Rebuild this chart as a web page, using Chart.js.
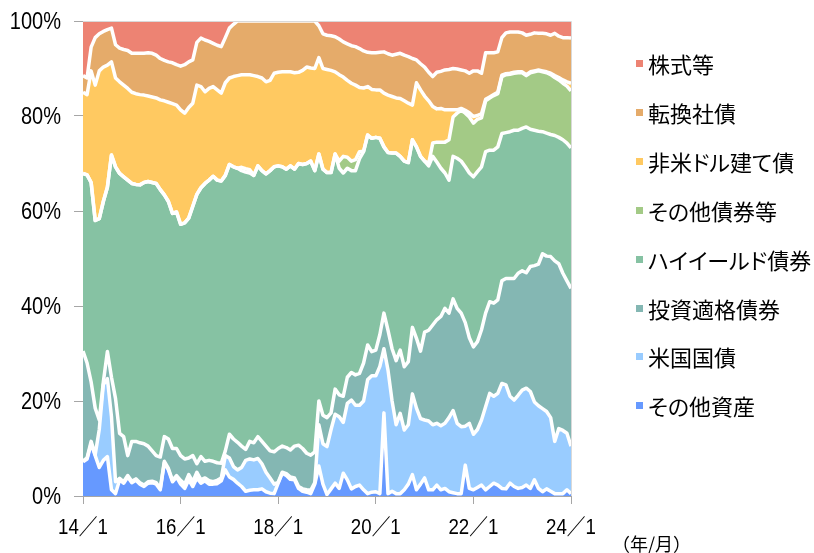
<!DOCTYPE html>
<html>
<head>
<meta charset="utf-8">
<script src="https://cdn.jsdelivr.net/npm/chart.js@4/dist/chart.umd.min.js"></script>
<style>
html,body{margin:0;padding:0;background:#fff;}
#wrap{position:relative;width:814px;height:553px;overflow:hidden;}
#c{position:absolute;left:0;top:0;}
.lg{position:absolute;left:636px;height:26px;line-height:26px;font-family:'Noto Sans CJK JP',sans-serif;font-size:22px;color:#000;white-space:nowrap;font-feature-settings:"palt";}
.lg i{position:absolute;left:0;top:10px;width:7px;height:7px;}
.lg span{position:absolute;left:12px;top:0;}
#unit{position:absolute;left:612px;top:531px;font-family:'Noto Sans CJK JP',sans-serif;font-size:18px;line-height:24px;color:#000;}
</style>
</head>
<body>
<div id="wrap">
<canvas id="c" width="814" height="553"></canvas>
<div id="legend"></div>
<div id="unit">（年/月）</div>
</div>
<script>
// ---- categories (monthly, 2014/1 .. 2024/1) ----
const months = [];
for (let y = 14; y <= 24; y++) {
  for (let m = 1; m <= 12; m++) {
    if (y === 24 && m > 1) break;
    months.push(y + '/' + m);
  }
}
const tickLabels = ['14／1', '16／1', '18／1', '20／1', '22／1', '24／1'];
const yTickValues = [0, 20, 40, 60, 80, 100];
const yTickLabels = ['0%', '20%', '40%', '60%', '80%', '100%'];

// ---- series (% of portfolio), bottom of stack first ----
const otherAssets = [
7.2,7.8,11,8.5,6,7.5,8.3,1.3,0.5,3.4,
2.7,4,2.8,3.3,2.5,2,2.7,2.8,2.5,1.3,
7,5.5,3,4,2.5,1.6,3.4,2,3.8,2.7,
3.2,2.5,2.5,2.6,3.2,5.5,4,3.5,2.7,2,
1,1.2,1.3,1.3,1.5,0.9,0.6,0.5,2.7,4.8,
4.3,3.5,3.4,1.6,1,0.8,0.5,2.5,6.3,2.5,
0.3,1.5,2.7,1.6,4.8,3.4,1.5,2,2.3,1.3,
0.5,0.8,0.9,0.5,17.5,0.5,1,0.5,0.5,1.3,
2.5,4.5,1.3,2.5,3.8,1.3,1.3,2.3,1.3,1.6,
0.9,0.7,0.5,0.5,6.5,1.6,1.3,1.8,2.3,1.3,
2,2.7,2.3,1.6,1.5,2.7,2,1.6,1.8,2.3,
1.6,3.4,1.6,0.9,1.5,1,0.5,0.5,0.5,1.3,
0.5];
const usTreasury = [
0.2,0.2,0.5,0.2,8,16,16.4,15.4,2.5,0.3,
0.3,0.3,0.3,0.3,0.3,0.3,0.3,0.3,0.3,0.3,
0.3,0.3,0.3,0.3,0.8,0.9,1.1,1,1.2,0.7,
0.6,0.7,0.5,0.7,0.6,3,4,2.7,2.8,4,
6.5,6.6,6.3,6.6,5.3,4.1,3.2,2,0.2,0.2,
0.4,0.5,0.4,0.4,0.5,0.5,0.7,0.3,8.7,8.5,
10.1,12.5,14.5,15.1,10.7,16.1,18.7,17.1,16.8,18.7,
24,24.5,24.4,26.8,13.5,26,19,14.5,16.9,12.6,
12.5,17,17.2,13.8,12.2,14.5,13.7,13,13.5,13.7,
15.6,17.3,14.8,14.1,8.2,13.7,11.7,12.2,13.7,17.5,
19.6,18.3,19.3,22.1,21.9,18.3,18.2,19.6,20.5,20.4,
20.4,16.4,17.4,17.5,16.3,15.5,11,13.7,13.3,11.9,
10];
const investmentGrade = [
23.1,20,12.5,9.8,2,0.5,5.7,8.3,17.5,9.5,
9.5,4.2,8.4,7.9,8.4,8.7,7.5,6.4,5.7,6.6,
5.2,6.2,6.7,5.7,5.2,5.3,3.5,5.5,1.8,4.9,
3.5,4.3,4.3,3.7,3.1,1,5,5.8,5.8,4.5,
2.3,3.7,3.6,4.6,4.7,5.5,5.7,6.8,7.1,5.5,
5.5,5.7,6.7,8.7,8.5,7.7,7.4,6.5,5,6,
6.1,3.5,5.3,4.6,5.5,5.5,5.8,6.4,6.7,8,
7.3,5.1,5.4,6.7,7.5,8.4,11,13.5,13.3,13.3,
13.3,14,14.7,14.2,18.5,19.1,21,21.8,23,24.2,
22,23.5,24.2,23.9,21.8,18,18.4,18.5,19,19.7,
19.3,19.6,19.7,21.6,22.4,24.8,25.6,25.7,25.1,24.3,
26.3,28.7,29.8,32.6,32.7,33.9,38,34.7,33.1,32.1,
33.2];
const highYield = [
37.4,39.6,42,39.5,42.4,38,34.6,46.8,48.8,54.7,
54.7,58,54.3,54.1,54.3,55,55.7,56.5,57.3,56.3,
50.9,50,49.5,49.8,48.7,49.7,50.5,52.5,56.7,56.6,
58.5,59,60,59.5,59.4,58,56.8,57.3,57.7,58,
58.4,56.5,56.3,57,57,57.3,59,60,59.5,58.8,
58.6,59.8,58.3,59.3,59.8,61,61.9,59.2,52,51.8,
51.6,50.6,49.5,47.7,47,44,42.5,43,45.2,44.5,
44.2,44.9,44.8,41.3,35,37.4,41.2,43.7,40.8,43.3,
41.9,39.5,40.3,41,36,34.6,35.5,33.2,31.2,28.5,
28,30,31.6,32,32.8,34.7,35.8,35.8,34.3,34,
31.9,32.2,32.2,31,30.7,30.9,31.2,30.1,30,30.7,
28.9,28.5,28,25.7,25.9,25.7,26.4,26.6,28.1,29,
29.6];
const otherBonds = [
0,0,0,0,0,0,0,0,0,0,
0,0,0,0,0,0,0,0,0,0,
0,0,0,0,0,0,0,0,0,0,
0,0,0,0,0,0,0,0,0,0.7,
0.7,0.7,0,0,0,0,0,0,0,0,
0,0,0,0,0,0,0,0,0,0,
0,0,0,1.5,3.5,2.3,2,2.3,1.5,0.1,
0,0,0,0,0,0,0,0,0,0,
0,0,0,0,0,0.5,2.8,4.2,5.5,6.5,
8.5,8.3,9.5,10.7,11.3,11.8,11.3,11,10.3,10.7,
11,11.5,11.2,12,12.2,12.1,12,12.1,11.7,10.8,
11.9,12.3,12.7,12.6,12.7,12.6,12.2,12.1,11.9,12,
12];
const nonUsdBonds = [
17.1,16.9,23.5,28.5,31.1,28.3,25.7,19.6,18.7,19.3,
19.3,19.3,19.2,19.1,19,18.4,18,18,18,18.9,
19.8,20.9,23.1,22.5,24.1,23.1,23.3,21.7,23,21.3,
19.3,19.3,18.9,19,18.5,19.5,18.2,19,19.5,19.5,
19.8,20,21,18.8,19.5,19.4,19,19.7,19.7,20,
20.5,19.8,20.3,19.2,19.8,20.3,19.6,21.5,20.3,21.2,
21.7,21.5,17.3,18.2,16.7,16.2,16.4,15.7,13.5,13.3,
10.2,10.3,10,10.2,11.3,12.1,11.9,11.6,12.2,12.7,
12.5,7.3,13.5,14,13.7,13.2,7.7,7,7.1,6.8,
6.3,1.5,0.7,0.4,0.6,0.9,1.4,0.8,0.9,0.3,
0.2,0.2,0.3,0.3,0.2,0.2,0.2,0.2,0.2,0.2,
0.2,0.2,0.2,0.2,0.2,0.3,0.4,0.5,0.7,0.9,
1.6];
const convertibles = [
3.5,3.5,5,10,7.8,7.5,7.5,7.1,7,7.1,
7.5,8,8.2,8.5,8.7,8.8,9.1,9.2,9,8.7,
8.5,8.5,8.6,8.5,9.2,10.2,9.6,9.1,9,10.2,
10.9,9.9,9.1,9.4,9.8,9.5,10.5,11,11.5,11.3,
11.3,11.3,11.5,11.7,12,12.8,12.5,11,10.8,10.7,
10.7,10.7,10.9,10.8,10.4,9.7,9.9,10,6.7,7.3,
7.2,7.3,7.4,7.5,7.4,7.7,7.9,8.1,8.2,7.8,
7.2,7.7,7.8,7.9,8.7,8.7,8.7,9.2,9.5,9.6,
9.8,9.8,4.8,5.5,6.1,6,6.3,7.7,7.8,8.4,
8.5,8.7,8.6,8.1,8.3,8.3,9.6,9.4,8.5,9.8,
9.3,8.8,8.5,7.9,8.6,8.7,8.5,8.4,8.2,8.3,
7.9,8,7.7,7.9,8,8,8.9,8.7,8.9,9.3,
9.5];
const equities = [
11.5,12,5.5,3.5,2.7,2.2,1.8,1.5,5,5.7,
6,6.2,6.8,6.8,6.8,6.8,6.7,6.8,7.2,7.9,
8.3,8.6,8.8,9.2,9.5,9.2,8.6,8.2,4.5,3.6,
4,4.3,4.7,5.1,5.4,3.5,1.5,0.7,0,0,
0,0,0,0,0,0,0,0,0,0,
0,0,0,0,0,0,0,0,1,2.7,
3,3.1,3.3,3.8,4.4,4.8,5.2,5.4,5.8,6.3,
6.6,6.7,6.7,6.6,6.5,6.9,7.2,7,6.8,7.2,
7.5,7.9,8.2,9,9.7,10.8,11.7,10.8,10.6,10.3,
10.2,10,10.1,10.3,10.5,11,10.5,10.5,11,6.7,
6.7,6.7,6.5,3.5,2.5,2.3,2.3,2.3,2.5,3,
2.8,2.5,2.6,2.6,2.7,3,2.6,3.2,3.5,3.5,
3.6];

const seriesNames = ['その他資産','米国国債','投資適格債券','ハイイールド債券','その他債券等','非米ドル建て債','転換社債','株式等'];
const seriesData = [otherAssets, usTreasury, investmentGrade, highYield, otherBonds, nonUsdBonds, convertibles, equities];
const seriesColors = ['#6699FF','#99CCFF','#84B7B3','#86C2A3','#A3CA86','#FFC961','#E5AB6A','#ED8373'];

const datasets = seriesNames.map((name, i) => ({
  label: name,
  data: seriesData[i],
  backgroundColor: seriesColors[i],
  borderColor: '#ffffff',
  borderWidth: i === seriesNames.length - 1 ? 0 : 3.5,
  fill: i === 0 ? 'origin' : '-1',
  pointRadius: 0,
  tension: 0,
  borderJoinStyle: 'round'
}));

// plot frame (top / right) and condensed tick labels placed by the scales
const frame = {
  id: 'frame',
  afterDraw(chart) {
    const {ctx, chartArea: a, scales: {x, y}} = chart;
    ctx.save();
    ctx.strokeStyle = '#d9d9d9';
    ctx.lineWidth = 1;
    ctx.beginPath();
    ctx.moveTo(a.left, a.top + 0.5);
    ctx.lineTo(a.right + 0.5, a.top + 0.5);
    ctx.lineTo(a.right + 0.5, a.bottom);
    ctx.stroke();

    ctx.fillStyle = '#000';
    ctx.textBaseline = 'alphabetic';
    ctx.font = "23px 'Liberation Sans', 'Noto Sans CJK JP', sans-serif";
    ctx.textAlign = 'right';
    yTickValues.forEach((v, i) => {
      const py = y.getPixelForValue(v);
      ctx.save();
      ctx.translate(61, py + 8);
      ctx.scale(0.87, 1);
      ctx.fillText(yTickLabels[i], 0, 0);
      ctx.restore();
    });
    ctx.font = "22px 'Liberation Sans', 'Noto Sans CJK JP', sans-serif";
    ctx.textAlign = 'center';
    tickLabels.forEach((t, i) => {
      const px = x.getPixelForValue(i * 24);
      ctx.save();
      ctx.translate(px, 534);
      ctx.scale(0.85, 1);
      ctx.fillText(t, 0, 0);
      ctx.restore();
    });
    ctx.restore();
  }
};

new Chart(document.getElementById('c'), {
  type: 'line',
  data: {labels: months, datasets},
  plugins: [frame],
  options: {
    responsive: false,
    animation: false,
    events: [],
    layout: {padding: {left: 0, right: 243, top: 21, bottom: 0}},
    plugins: {
      legend: {display: false},
      tooltip: {enabled: false},
      filler: {drawTime: 'beforeDatasetsDraw'}
    },
    scales: {
      x: {
        afterFit(s) { s.height = 57; },
        border: {color: '#a6a6a6', width: 1},
        grid: {
          drawOnChartArea: false,
          tickLength: 8,
          tickColor: (c) => (c.index % 24 === 0 ? '#a6a6a6' : 'rgba(0,0,0,0)')
        },
        ticks: {display: false, autoSkip: false, maxRotation: 0}
      },
      y: {
        stacked: true,
        min: 0,
        max: 100,
        afterFit(s) { s.width = 83; },
        border: {color: '#a6a6a6', width: 1},
        grid: {drawOnChartArea: false, tickLength: 9, tickColor: '#a6a6a6'},
        ticks: {display: false, stepSize: 20}
      }
    }
  }
});

// legend (top of stack first)
const lg = document.getElementById('legend');
const legendTop = 63.3, legendStep = 48.85;
for (let k = 0; k < seriesNames.length; k++) {
  const i = seriesNames.length - 1 - k;
  const d = document.createElement('div');
  d.className = 'lg';
  d.style.top = (legendTop + k * legendStep - 13) + 'px';
  d.innerHTML = '<i style="background:' + seriesColors[i] + '"></i><span>' + seriesNames[i] + '</span>';
  lg.appendChild(d);
}
</script>
</body>
</html>
